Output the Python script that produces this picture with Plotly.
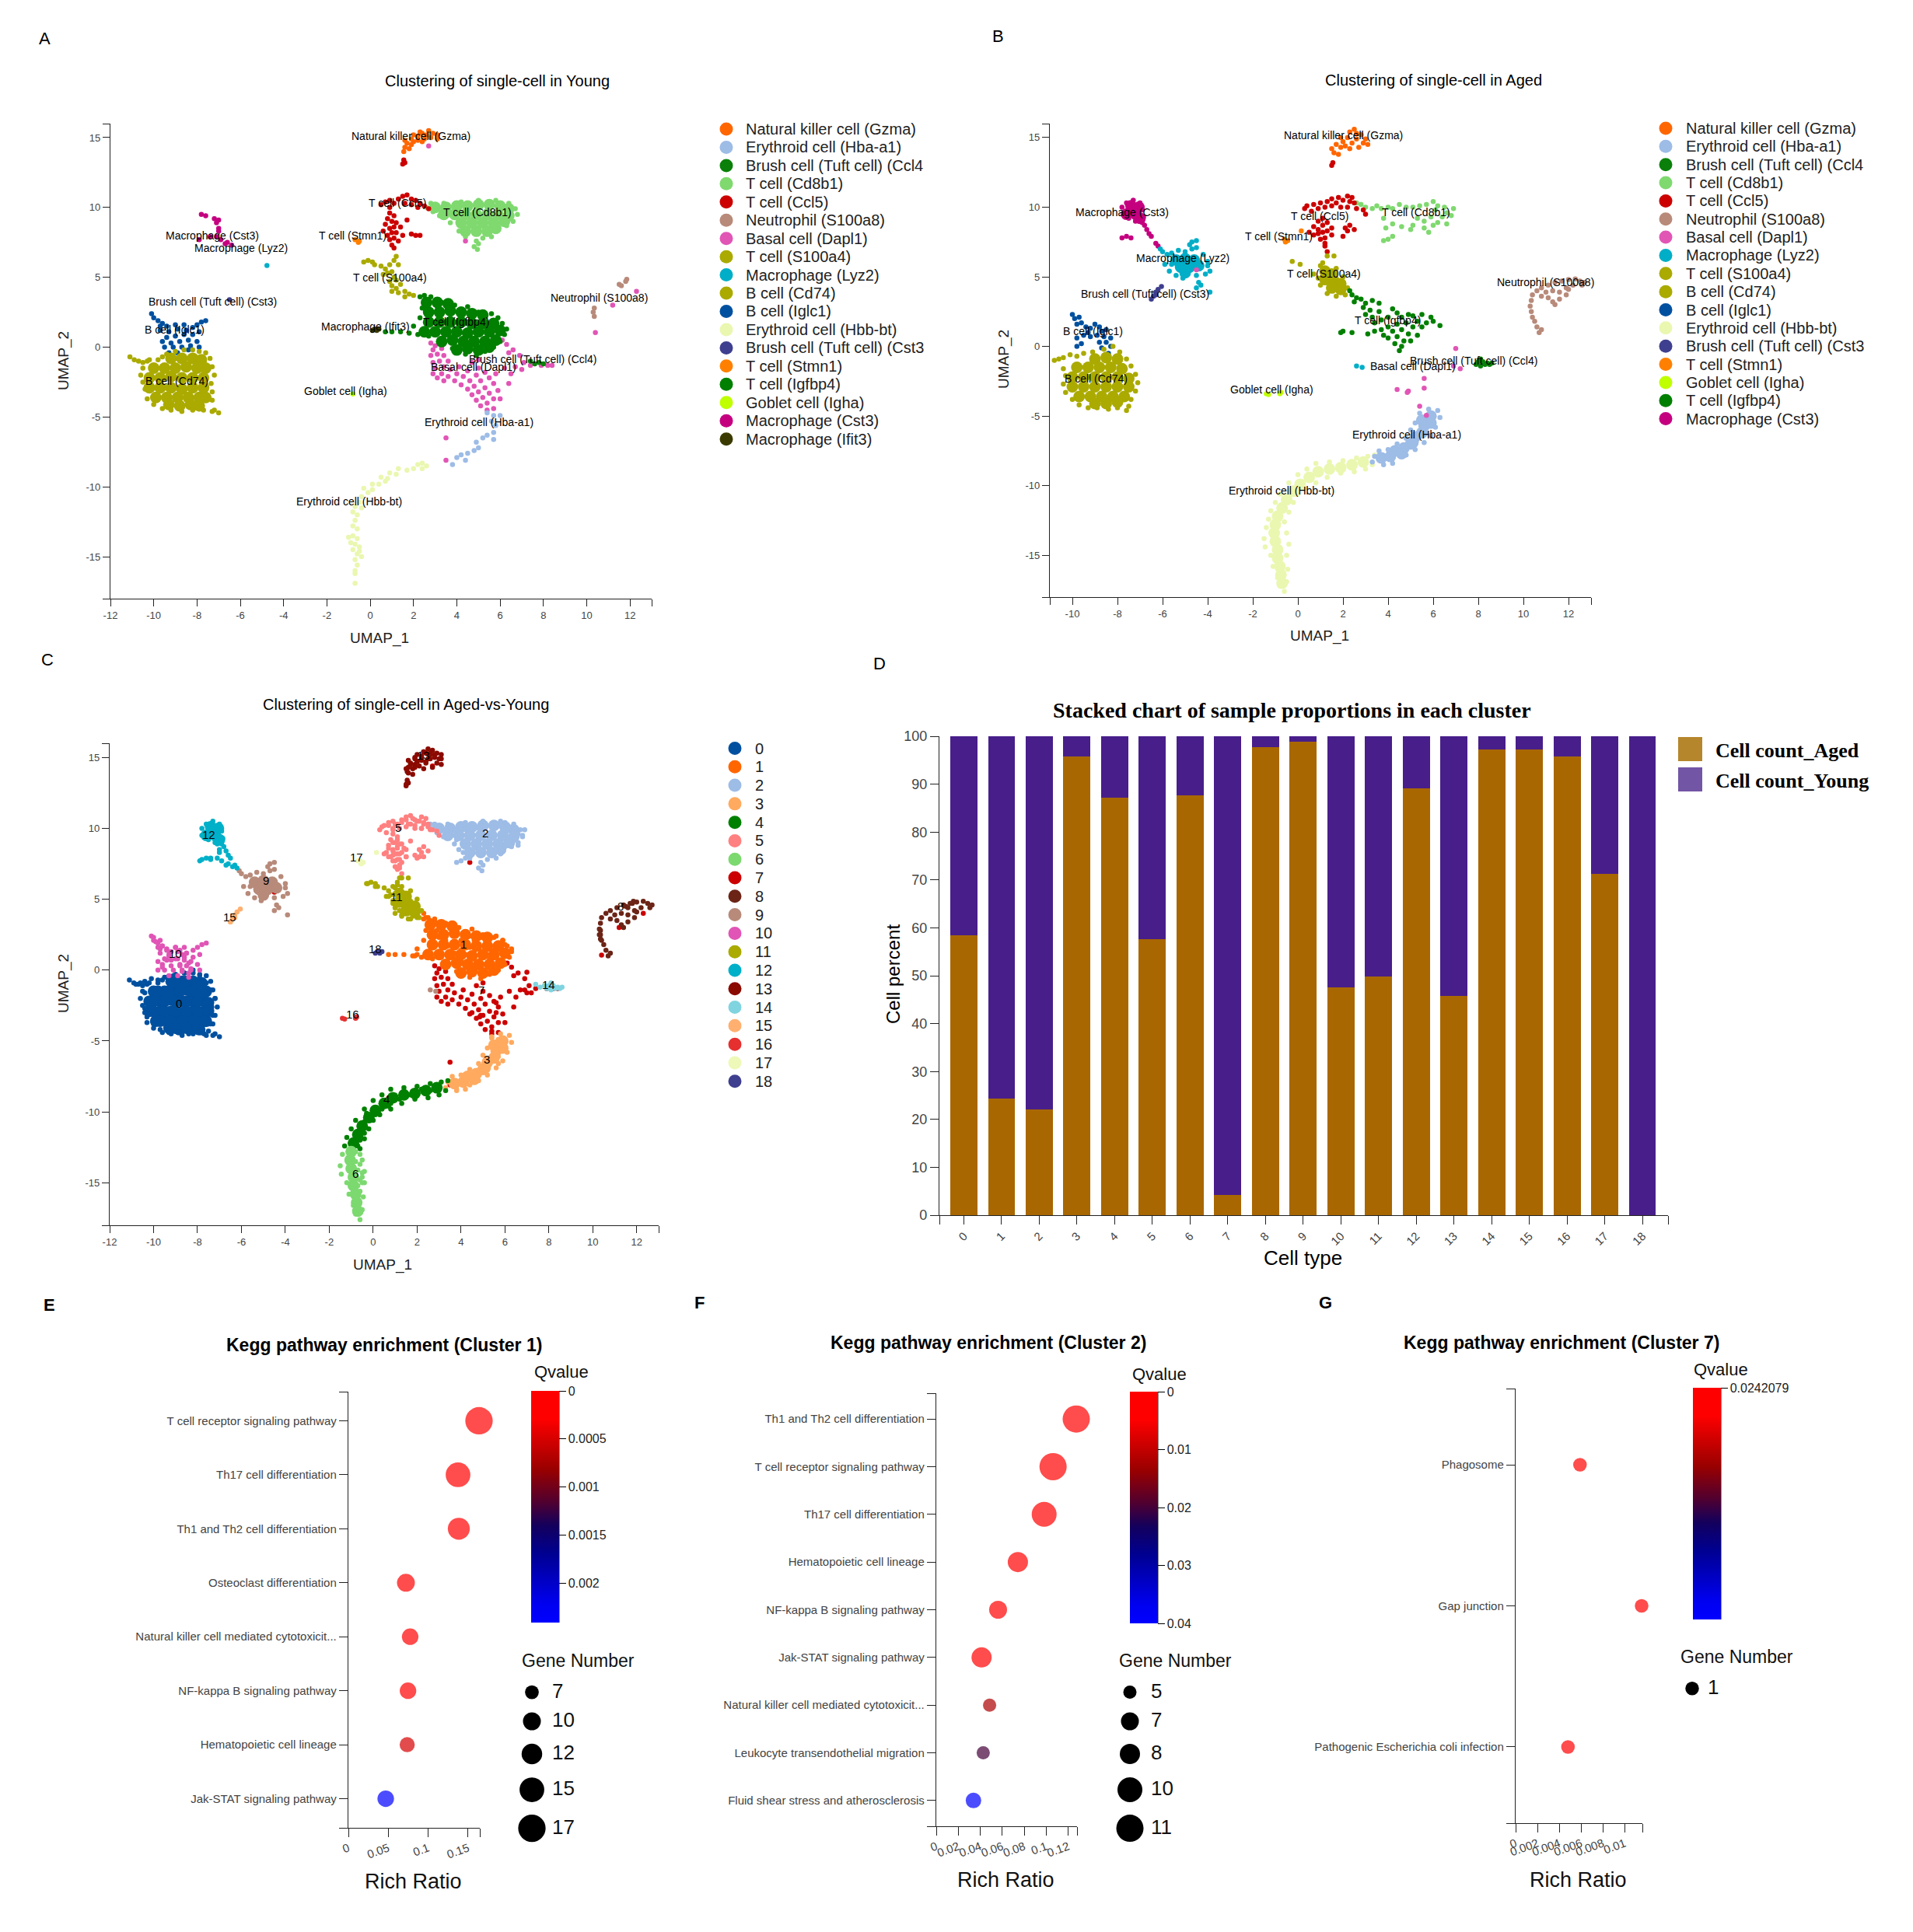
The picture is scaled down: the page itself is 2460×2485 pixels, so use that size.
import plotly.graph_objects as go

W, H = 2460, 2485

A_GZMA = [(1.55,14.0),(1.6,14.3),(1.7,14.6),(1.6,14.8),(1.9,14.5),(1.9,14.9),(2.0,15.2),(2.2,14.8),(2.2,15.1),(2.4,15.3),(2.5,14.9),(2.6,15.2),(2.8,15.0),(2.9,15.3),(3.1,15.2),(3.1,14.9),(2.4,14.7),(1.8,14.2),(2.7,15.5),(2.3,15.4),(2.0,14.7)]
A_CCL5 = [(1.5,13.1),(1.55,13.4),(1.6,13.2),(0.5,10.2),(0.7,10.4),(0.9,10.5),(1.1,10.3),(1.3,10.6),(1.5,10.8),(1.7,10.9),(1.9,10.6),(2.1,10.5),(2.3,10.3),(2.5,10.1),(2.7,9.9),(1.6,10.3),(1.9,10.2),(2.2,10.0),(0.9,10.0),(0.9,9.6),(1.1,9.4),(0.8,9.2),(1.0,9.0),(1.2,8.9),(0.7,8.8),(0.9,8.5),(1.1,8.6),(1.4,8.6),(0.6,8.3),(0.8,8.0),(1.0,8.2),(1.2,8.2),(1.5,8.0),(0.9,7.7),(1.1,7.8),(1.3,7.6),(1.0,7.3),(1.1,7.1),(1.9,8.1),(2.1,8.0),(2.3,8.0),(1.7,9.1)]
A_CD8B1 = [(2.6,10),(2.8,10.3),(3.4,10.3),(4.2,10.4),(5,10.5),(5.8,10.5),(6.4,10.3),(6.7,9.9),(6.8,9.5),(6.6,9.0),(6.3,8.7),(5.6,7.9),(5.2,7.8),(4.9,7.6),(4.8,7.2),(4.95,7.0),(5,7.4),(4.4,7.9),(4.1,8.3),(3.7,8.9),(3.2,9.4),(2.9,9.7)]
A_CD8B1_CORE = [(3.0,10.0),(3.5,10.0),(4,10.1),(4.5,10.1),(5,10.2),(5.5,10.2),(6,10.1),(6.4,9.9),(3.4,9.5),(3.9,9.5),(4.4,9.5),(4.9,9.5),(5.4,9.5),(5.9,9.5),(6.4,9.4),(4.2,8.9),(4.7,8.9),(5.2,8.9),(5.7,8.9),(6.2,9.0),(4.4,8.3),(4.9,8.3),(5.4,8.3),(5.8,8.5)]
A_STMN1 = [(-0.7,7.7),(-0.55,7.5),(-0.5,7.6)]
A_S100A4 = [(-0.3,6.1),(-0.1,6.2),(0.1,6.1),(0.2,5.9),(0.5,5.8),(0.7,5.6),(0.9,5.9),(1.1,6.2),(1.2,6.5),(1.3,5.9),(0.6,5.2),(0.8,5.3),(1,5.4),(1.1,5),(0.9,4.7),(1,4.4),(1.2,4.2),(1.4,4.5),(1,4),(1.3,3.9),(1.6,4.0),(1.8,3.8),(2,3.7),(1.6,3.6),(1.2,4.8)]
A_IGFBP4 = [(2.3,3.6),(2.5,3.7),(2.8,3.6),(3.3,3.2),(3.9,3.0),(4.5,2.9),(5,2.5),(5.6,2.4),(5.9,2.1),(6.1,1.7),(6.3,1.3),(6.2,0.9),(6,0.4),(5.7,0),(5.3,-0.3),(4.9,-0.6),(4.4,-0.5),(3.8,-0.1),(3.2,0.4),(2.7,0.8),(2.2,0.9),(1.8,1),(1.4,1.1),(1,1.1),(0.7,1.1),(2,1.5),(2.3,2.1),(2.4,2.8)]
A_IGFBP4_CORE = [(2.6,3.2),(3.1,3.2),(3.6,3.1),(2.7,2.5),(3.2,2.5),(3.7,2.6),(4.2,2.5),(4.7,2.4),(5.2,2.3),(2.7,1.8),(3.2,1.8),(3.7,1.8),(4.2,1.8),(4.7,1.7),(5.2,1.7),(5.7,1.7),(2.5,1.1),(3,1.1),(3.5,1.1),(4,1.1),(4.5,1.0),(5,1.1),(5.5,1.1),(6,1.2),(3.3,0.4),(3.8,0.5),(4.3,0.4),(4.8,0.4),(5.3,0.4),(5.8,0.5),(4,-0.2),(4.5,-0.1),(5,-0.2),(5.5,0)]
A_BASAL = [(2.8,0.3),(3.0,0.1),(2.9,-0.2),(3.3,-0.1),(3.1,-0.5),(2.8,-0.6),(3.4,-0.6),(3.2,-1.0),(2.9,-1.1),(3.6,-1.0),(3.4,-1.4),(3.0,-1.5),(2.9,-1.9),(3.3,-1.9),(3.7,-1.6),(3.6,-2.1),(3.1,-2.2),(3.4,-2.4),(3.9,-2.4),(4.0,-1.9),(4.1,-1.4),(4.3,-2.1),(4.5,-1.7),(4.2,-2.7),(4.6,-2.4),(4.9,-2.0),(5.0,-1.5),(5.3,-1.8),(4.5,-3.0),(4.8,-2.8),(5.1,-2.4),(5.5,-2.2),(5.8,-1.9),(4.7,-3.4),(5.0,-3.2),(5.3,-2.9),(5.7,-2.6),(4.9,-3.8),(5.2,-3.6),(5.5,-3.3),(5.9,-3.1),(5.1,-4.2),(5.4,-4.0),(5.7,-3.7),(6.0,-3.7),(5.4,-4.5),(5.7,-4.4),(6.4,-2.6),(6.5,-1.9),(6.2,-1.5),(6.7,-1.4),(7.0,-1.6),(7.1,-1.1),(6.9,-0.6),(6.6,-0.2),(6.3,0.2),(6.1,0.5),(6.4,-0.4),(7.4,-1.3),(7.9,-1.3),(8.4,-1.3),(8.2,-1.3),(2.7,14.4),(3.5,-6.5),(3.5,-8.1),(4.4,7.6),(11.2,3.0),(12.3,4.0),(10.4,1.05),(5.0,-0.9),(4.7,-1.1)]
A_HBA = [(5.4,-4.7),(5.7,-4.9),(6,-4.9),(5.6,-5.3),(5.8,-5.6),(5.7,-6.1),(5.7,-6.6),(5.4,-6.3),(5.2,-6.5),(4.9,-6.8),(5,-7.2),(4.8,-7.4),(4.5,-7.6),(4.2,-7.7),(4,-7.9),(3.8,-8.4),(4.4,-8.1)]
A_HBB = [(2.6,-8.5),(2.4,-8.3),(2.2,-8.4),(2.4,-8.7),(2,-8.7),(1.7,-8.8),(1.3,-8.7),(1.2,-9.1),(0.9,-9.0),(0.8,-9.4),(0.5,-9.3),(0.4,-9.8),(0.7,-9.6),(0.1,-9.8),(0.1,-10.2),(-0.1,-10.4),(-0.3,-10.1),(-0.4,-10.7),(-0.5,-11.1),(-0.7,-11.4),(-0.4,-11.5),(-0.8,-11.8),(-0.6,-12),(-0.7,-12.4),(-0.8,-12.8),(-0.6,-13.0),(-1,-13.6),(-0.8,-13.5),(-0.6,-13.7),(-0.7,-14.1),(-0.5,-14.3),(-0.8,-14.5),(-0.6,-14.8),(-0.4,-15),(-0.7,-15.2),(-0.6,-15.6),(-0.7,-16),(-0.7,-16.2),(-0.7,-16.9),(-0.5,-14.6),(-0.9,-14.0)]
A_CD74 = [(-11.1,-0.7),(-10.9,-0.9),(-10.7,-1),(-10.5,-1.1),(-10.3,-1.0),(-10.2,-0.9),(-9.8,-0.9),(-9.6,-0.7),(-9.4,-0.5),(-9,-0.3),(-8.6,-0.2),(-8.2,-0.2),(-7.9,-0.3),(-7.6,-0.4),(-7.4,-0.8),(-7.3,-1.4),(-7.2,-2),(-7.35,-2.6),(-7.3,-3.2),(-7.3,-3.8),(-7.2,-4.5),(-7,-4.7),(-7.3,-4.6),(-7.7,-4.5),(-8.2,-4.5),(-8.7,-4.6),(-9.2,-4.5),(-9.6,-4.4),(-10,-4.1),(-10.3,-3.7),(-10.4,-3),(-10.5,-2.5),(-10.6,-2),(-10.5,-1.5)]
A_CD74_CORE = [(-9.2,-0.8),(-8.7,-0.8),(-8.2,-0.8),(-7.8,-0.9),(-10,-1.5),(-9.5,-1.5),(-9,-1.5),(-8.5,-1.4),(-8,-1.5),(-7.6,-1.5),(-10.2,-2.2),(-9.7,-2.2),(-9.2,-2.1),(-8.7,-2.2),(-8.2,-2.2),(-7.7,-2.2),(-10.2,-2.9),(-9.7,-2.9),(-9.2,-2.9),(-8.7,-3.0),(-8.2,-2.9),(-7.7,-2.9),(-9.9,-3.6),(-9.4,-3.6),(-8.9,-3.6),(-8.4,-3.6),(-7.9,-3.6),(-7.6,-3.6),(-9.3,-4.1),(-8.8,-4.2),(-8.3,-4.1),(-7.9,-4.2)]
A_IGLC1 = [(-10.1,2.4),(-10,2.1),(-9.8,1.9),(-9.6,1.7),(-9.4,1.5),(-9.7,1.2),(-9.3,1.1),(-9,1.6),(-8.9,1.3),(-8.6,1.6),(-8.5,1.2),(-8.2,1.4),(-8,1.6),(-7.8,1.8),(-7.6,1.9),(-7.9,1.1),(-8.2,0.9),(-8.6,0.9),(-9,0.8),(-9.4,0.7),(-9.6,0.4),(-9.2,0.3),(-8.8,0.4),(-8.4,0.5),(-8,0.4),(-7.9,0),(-8.3,0.1),(-8.7,0),(-9.1,0),(-9.5,0),(-9.3,-0.4),(-8.9,-0.4),(-8.4,-0.2),(-9.7,1.5)]
A_CST3 = [(-7.8,9.5),(-7.6,9.4),(-7.2,9.2),(-7.1,8.9),(-7,9.1),(-7,8.5),(-7,8.3),(-7.9,7.7),(-7.4,7.9),(-7.1,7.9),(-6.9,7.7),(-6.6,7.5),(-6.4,7.3),(-6.7,7.4)]
A_IFIT3 = [(0.2,1.3),(0.3,1.2),(0.4,1.3),(0.1,1.2)]
A_NEUT = [(11.5,4.5),(11.6,4.4),(11.8,4.7),(11.85,4.85),(10.35,2.8),(10.3,2.5),(10.35,2.2)]
A_LYZ2 = [(-4.77,5.85)]
A_GOBLET = [(-0.8,-3.35)]
A_CCL4 = [(7.6,-1.2),(7.8,-1.1),(8,-1.2),(7.4,-1.0)]
A_BRUSH_CST3 = [(-6.5,3.4)]

B_GZMA = [(1.5,14.2),(1.7,14.5),(1.6,13.9),(1.8,13.8),(1.9,14.3),(2,14.7),(2.2,15.0),(1.9,15),(2.3,15.4),(2.5,15.6),(2.4,14.6),(2.7,14.3),(2.6,14.9),(2.9,14.6),(3,14.9),(3.1,14.5),(2.8,15.2),(2.3,14.2),(2.1,14.4),(2.6,15.3)]
B_CCL5 = [(1.55,13.2),(1.5,13.0),(0.3,9.9),(0.4,10.1),(0.6,9.7),(0.7,10.2),(0.9,9.9),(1,10.3),(1.2,10),(1.3,10.4),(1.5,10.1),(1.5,10.6),(1.7,10.3),(1.8,10.7),(2,10.5),(2.2,10.8),(2.3,10.4),(2.4,10.7),(2.5,10.3),(2.2,10),(1.9,10.0),(2.6,9.9),(2.9,9.8),(3,9.5),(0.9,9),(1.1,9.2),(0.7,8.6),(0.9,8.4),(1.1,8.7),(1.3,8.9),(1.5,8.5),(0.5,8.2),(0.7,8),(0.9,8.1),(1.1,8.2),(1.3,8.3),(1.5,8.0),(1,7.7),(1.2,7.8),(1.2,7.4),(1.2,7.2),(1.3,6.8),(2,7.9),(2.2,8.3),(2.3,8.7),(2.1,8.5),(2.5,8.4)]
B_CD8B1 = [(2.6,10.3),(2.8,10.2),(3,10),(3.3,9.9),(3.5,10.1),(3.7,9.9),(4,10),(4.2,9.9),(4.5,10.2),(4.8,10),(5.1,10),(5.4,10.1),(5.7,10.2),(6,10.4),(6.2,10.1),(6.1,9.8),(6.5,10),(6.9,9.9),(6.6,9.6),(6.8,9.4),(6.4,9.3),(6.2,8.9),(5.9,9.3),(5.6,9.0),(5.3,9.2),(5.1,8.7),(5.6,8.5),(5.8,8.2),(6,8.7),(5,8.4),(4.6,8.6),(4.2,8.8),(3.9,8.5),(3.8,9.2),(4,7.7),(3.8,7.6),(4.2,7.9),(6.6,8.8)]
B_STMN1 = [(-0.6,7.7),(-0.55,7.5),(-0.45,7.6),(0.15,8.3)]
B_CST3 = [(-7.8,10),(-7.6,10.3),(-7.3,10.5),(-7,10.3),(-6.9,9.8),(-6.85,9.3),(-6.9,8.9),(-7.2,9),(-7.5,9.2),(-6.8,8.7),(-6.7,8.4),(-6.6,8.1),(-6.5,7.9),(-6.3,7.4),(-6.2,7.2),(-7.8,7.8),(-7.6,7.9),(-7.4,7.8)]
B_CST3_CORE = [(-7.6,9.5),(-7.4,10.1),(-7.2,9.5),(-7.05,10),(-7.0,9.2)]
B_LYZ2 = [(-6,6.8),(-5.8,6.6),(-5.6,6.7),(-6.1,7),(-5.3,6.9),(-5,6.8),(-4.7,7),(-4.8,7.3),(-4.7,7.5),(-4.5,7.6),(-4.5,7.1),(-4.2,6.6),(-4,6.1),(-4,5.8),(-3.9,5.4),(-4.1,5.2),(-4.5,5.1),(-4.4,4.6),(-4.5,4.2),(-4.3,4.4),(-3.9,3.9),(-5.7,5.4),(-5.6,5.9),(-5.9,5.9),(-5.4,5.1),(-5.1,4.9),(2.6,-1.4),(2.85,-1.5)]
B_LYZ2_CORE = [(-5.4,6.2),(-5,6.3),(-4.6,6.2),(-5.2,5.7),(-4.8,5.7),(-4.4,5.8),(-5,5.3)]
B_BRUSH_CST3 = [(-6.5,3.4),(-6.4,3.6),(-6.3,3.9),(-6.2,4.1),(-6.05,4.3),(-6.3,3.7)]
B_IGLC1 = [(-10,2.3),(-9.9,2),(-9.7,2.1),(-9.6,1.7),(-9.8,1.6),(-9.4,1.4),(-9.3,1.0),(-9.5,0.8),(-9.2,0.7),(-8.8,1.4),(-8.7,1.1),(-8.5,1.2),(-8.9,0.8),(-8.6,0.7),(-8.3,0.6),(-9.8,0.6),(-9.6,0.2),(-9.8,0),(-8.8,0.3),(-8.5,0.3),(-8.7,-0.1),(-8.3,0),(-8.4,-0.5),(-9.2,1.3),(-9,1.6)]
B_CD74 = [(-10.8,-1),(-10.6,-0.9),(-10.4,-0.8),(-10.1,-0.6),(-9.8,-0.7),(-9.5,-0.5),(-9.1,-0.4),(-8.6,-0.2),(-8.2,0.0),(-7.9,-0.4),(-7.6,-0.9),(-7.4,-1.4),(-7.2,-2),(-7.1,-2.6),(-7.2,-3.2),(-7.4,-3.8),(-7.5,-4.3),(-7.6,-4.6),(-8,-4.4),(-8.4,-4.5),(-8.9,-4.4),(-9.3,-4.4),(-9.7,-4.2),(-10,-3.8),(-10.3,-3.3),(-10.4,-2.7),(-10.3,-2.1),(-10.4,-1.6)]
B_CD74_CORE = [(-9.0,-0.9),(-8.5,-0.8),(-8.0,-0.9),(-9.8,-1.5),(-9.3,-1.5),(-8.8,-1.5),(-8.3,-1.5),(-7.8,-1.6),(-10,-2.2),(-9.5,-2.2),(-9,-2.2),(-8.5,-2.2),(-8,-2.2),(-7.5,-2.3),(-10,-2.9),(-9.5,-2.9),(-9,-2.9),(-8.5,-2.9),(-8,-2.9),(-7.5,-2.9),(-9.7,-3.6),(-9.2,-3.6),(-8.7,-3.6),(-8.2,-3.6),(-7.7,-3.6),(-9,-4.1),(-8.5,-4.1),(-8,-4.0)]
B_S100A4 = [(-0.25,6.1),(0.1,5.9),(1,5.8),(1.3,6.5),(1.6,6.5),(1.1,6),(0.7,5.2),(0.9,4.9),(1,4.4),(1.3,3.8),(1.7,3.6),(2.1,3.7),(2.2,4.2),(2,5),(1.7,5.6)]
B_S100A4_CORE = [(1.2,5.4),(1.5,5.2),(1.2,4.8),(1.6,4.7),(1.9,4.5),(1.5,4.2),(1.9,4.1)]
B_IGFBP4 = [(2.3,4),(2.4,3.7),(2.6,3.5),(2.5,3.2),(2.8,3.4),(3,3.1),(3.3,3.3),(3.6,3.1),(2.9,2.8),(3.2,2.6),(3.6,2.5),(3,2.3),(3.3,2.1),(3.7,1.9),(3.4,1.7),(4,2.1),(4.2,2.7),(4.4,2.4),(4.6,2.1),(4.9,2.3),(5.1,2.2),(5.5,2.3),(5.9,2.1),(6,1.8),(6.3,1.5),(5.7,1.7),(5.3,1.8),(5.5,1.4),(5.1,1.4),(4.8,1.7),(4.4,1.6),(4,1.4),(3.7,1.2),(3.4,1.1),(3.1,0.9),(2,1.1),(1.9,1.0),(2.4,1),(4.2,1.1),(4.6,1.2),(4.9,0.9),(5.3,0.8),(4.4,0.7),(4,0.6),(4.7,0.4),(4.3,0.2),(4.6,0),(4.5,-0.3),(5,0.4),(3.8,0.8)]
B_CCL4 = [(7.9,-1.3),(8,-1.1),(8.1,-1.4),(8.2,-1.1),(8.3,-1.3),(8.4,-1.2),(8.5,-1.3),(8.6,-1.2),(8.1,-0.9)]
B_BASAL = [(7,-0.15),(7.2,-1.6),(5.6,-2.3),(5.6,-3),(4.4,-3.1),(4.9,-3.2),(4.85,-3.3),(5.4,-4.3),(5.7,-4.95),(-4.5,5.5),(6.9,-1.4)]
B_GOBLET = [(-1.4,-3.4),(-1.3,-3.45),(-0.8,-3.4),(-0.75,-3.3)]
B_NEUT = [(10.7,1.0),(10.8,1.2),(10.6,1.4),(10.5,1.8),(10.4,2.1),(10.35,2.5),(10.3,2.9),(10.35,3.3),(10.4,3.7),(10.6,4),(10.8,4.2),(11.1,4.4),(11.4,4.6),(11.7,4.7),(12,4.8),(12.3,4.85),(12.5,4.7),(12.7,4.6),(12.6,4.4),(12.2,4.4),(11.9,4.2),(11.6,3.9),(11.9,3.7),(11.6,3.4),(11.3,3.2),(11.1,3.5),(11.4,3),(10.8,3.6),(11,3.9),(11.3,4),(12,4.1)]
B_HBA = [(3.3,-8.3),(3.4,-7.9),(3.6,-7.5),(4,-7.4),(4.4,-7),(4.8,-6.6),(5,-6),(5.2,-5.5),(5.4,-4.8),(5.8,-4.5),(6.2,-4.6),(6.3,-5.1),(6.1,-5.8),(5.9,-6.4),(5.6,-6.9),(5.2,-7.4),(4.8,-7.8),(4.2,-8.4),(3.8,-8.5)]
B_HBA_CORE = [(3.7,-8),(4.1,-7.9),(4.3,-7.5),(4.7,-7.3),(5,-7),(5.2,-6.5),(5.5,-6.2),(5.6,-5.7),(5.9,-5.5),(5.9,-5),(5.5,-5.3),(4.6,-7.7),(5.1,-6.9)]
B_HBB = [(3.4,-7.8),(3.1,-7.9),(2.6,-8),(2,-8.2),(1.4,-8.3),(0.8,-8.4),(0.4,-8.8),(0,-9.2),(-0.4,-9.8),(-0.8,-10.6),(-1,-11.2),(-1.2,-11.8),(-1.3,-12.4),(-1.4,-13),(-1.5,-13.8),(-1.45,-14.4),(-1.2,-15),(-1.1,-15.8),(-0.9,-16.6),(-0.8,-17.2),(-0.6,-17.6),(-0.5,-16.9),(-0.45,-16),(-0.5,-15),(-0.4,-14.2),(-0.5,-13.4),(-0.6,-12.6),(-0.4,-11.9),(-0.2,-11.2),(0,-10.6),(0.3,-10.2),(0.8,-9.8),(1.3,-9.4),(1.9,-9.1),(2.5,-9),(3,-8.8),(3.3,-8.5)]
B_HBB_CORE = [(2.9,-8.3),(2.4,-8.5),(1.9,-8.7),(1.4,-8.8),(0.9,-9.0),(0.5,-9.4),(0.1,-9.9),(-0.2,-10.4),(-0.5,-11),(-0.7,-11.6),(-0.9,-12.2),(-1,-12.8),(-1.05,-13.4),(-1.0,-14),(-0.9,-14.6),(-0.9,-15.2),(-0.8,-15.8),(-0.75,-16.4),(-0.7,-17)]

COLORS = {
    "Natural killer cell (Gzma)": "#FF6600", "Erythroid cell (Hba-a1)": "#9DBCE6",
    "Brush cell (Tuft cell) (Ccl4": "#0A800A", "T cell (Cd8b1)": "#7FD96F", "T cell (Ccl5)": "#CC0000",
    "Neutrophil (S100a8)": "#B88A7A", "Basal cell (Dapl1)": "#E155B5", "T cell (S100a4)": "#AAAA00",
    "Macrophage (Lyz2)": "#00AEC7", "B cell (Cd74)": "#AAAA00", "B cell (Iglc1)": "#00509F",
    "Erythroid cell (Hbb-bt)": "#EAF7B0", "Brush cell (Tuft cell) (Cst3": "#3F3F8F", "T cell (Stmn1)": "#FF8000",
    "T cell (Igfbp4)": "#007F00", "Goblet cell (Igha)": "#BFFF00", "Macrophage (Cst3)": "#C4007F",
    "Macrophage (Ifit3)": "#3A3A00",
}
A_LEGEND = ["Natural killer cell (Gzma)", "Erythroid cell (Hba-a1)", "Brush cell (Tuft cell) (Ccl4", "T cell (Cd8b1)",
            "T cell (Ccl5)", "Neutrophil (S100a8)", "Basal cell (Dapl1)", "T cell (S100a4)", "Macrophage (Lyz2)",
            "B cell (Cd74)", "B cell (Iglc1)", "Erythroid cell (Hbb-bt)", "Brush cell (Tuft cell) (Cst3",
            "T cell (Stmn1)", "T cell (Igfbp4)", "Goblet cell (Igha)", "Macrophage (Cst3)", "Macrophage (Ifit3)"]
B_LEGEND = ["Natural killer cell (Gzma)", "Erythroid cell (Hba-a1)", "Brush cell (Tuft cell) (Ccl4", "T cell (Cd8b1)",
            "T cell (Ccl5)", "Neutrophil (S100a8)", "Basal cell (Dapl1)", "Macrophage (Lyz2)", "T cell (S100a4)",
            "B cell (Cd74)", "B cell (Iglc1)", "Erythroid cell (Hbb-bt)", "Brush cell (Tuft cell) (Cst3",
            "T cell (Stmn1)", "Goblet cell (Igha)", "T cell (Igfbp4)", "Macrophage (Cst3)"]
C_COLORS = ["#00509F", "#FF6600", "#9DBCE6", "#FFAA5F", "#008000", "#FF8080", "#7CD96F", "#CC0000", "#6B2416", "#B88A7A",
            "#E055B5", "#AAAA00", "#00B0C8", "#8B0A00", "#80D4E0", "#FFB070", "#E63030", "#EEF8B8", "#3F3F8F"]

# (text, UMAP_1, UMAP_2) of the labels written inside the plots
A_LABELS = [("Natural killer cell (Gzma)",1.9,15.1),("T cell (Ccl5)",1.27,10.3),("T cell (Cd8b1)",4.95,9.65),("Macrophage (Cst3)",-7.3,8.0),
            ("Macrophage (Lyz2)",-5.98,7.1),("T cell (Stmn1)",-0.82,8.0),("T cell (S100a4)",0.93,5.0),("Brush cell (Tuft cell) (Cst3)",-7.28,3.27),
            ("Neutrophil (S100a8)",10.58,3.53),("B cell (Iglc1)",-9.05,1.24),("Macrophage (Ifit3)",-0.23,1.5),("T cell (Igfbp4)",3.95,1.79),
            ("Brush cell (Tuft cell) (Ccl4)",7.5,-0.88),("Basal cell (Dapl1)",4.76,-1.44),("B cell (Cd74)",-8.94,-2.41),("Goblet cell (Igha)",-1.15,-3.12),
            ("Erythroid cell (Hba-a1)",5.02,-5.35),("Erythroid cell (Hbb-bt)",-0.96,-11.03)]
B_LABELS = [("Natural killer cell (Gzma)",2.03,15.18),("T cell (Ccl5)",0.97,9.37),("T cell (Cd8b1)",5.24,9.64),("Macrophage (Cst3)",-7.78,9.64),
            ("T cell (Stmn1)",-0.84,7.9),("Macrophage (Lyz2)",-5.11,6.34),("T cell (S100a4)",1.16,5.22),("Brush cell (Tuft cell) (Cst3)",-6.76,3.77),
            ("Neutrophil (S100a8)",10.97,4.6),("B cell (Iglc1)",-9.08,1.09),("T cell (Igfbp4)",3.97,1.89),("Brush cell (Tuft cell) (Ccl4)",7.81,-1.0),
            ("Basal cell (Dapl1)",5.11,-1.41),("B cell (Cd74)",-8.95,-2.3),("Goblet cell (Igha)",-1.14,-3.09),("Erythroid cell (Hba-a1)",4.84,-6.31),
            ("Erythroid cell (Hbb-bt)",-0.73,-10.37)]
C_LABELS = [(-8.85,-2.37),(4.12,1.83),(5.12,9.65),(5.19,-6.29),(0.62,-9.1),(1.14,10.07),(-0.82,-14.37),(4.94,-1.39),(11.28,4.53),(-4.9,6.33),
            (-9,1.16),(1.07,5.17),(-7.5,9.58),(2.29,15.14),(8,-1.04),(-6.53,3.75),(-0.94,-3.13),(-0.77,7.94),(0.1,1.5)]

# panel D
D_CLUSTERS = list(range(19))
D_AGED = [58.5, 24.3, 22.0, 95.8, 87.2, 57.7, 87.7, 4.2, 97.8, 98.8, 47.5, 49.8, 89.2, 45.7, 97.3, 97.3, 95.8, 71.3, 0]
D_YOUNG = [41.5, 75.7, 78.0, 4.2, 12.8, 42.3, 12.3, 95.8, 2.2, 1.2, 52.5, 50.2, 10.8, 54.3, 2.7, 2.7, 4.2, 28.7, 100]

# panels E, F, G
E_PATHWAYS = ["T cell receptor signaling pathway", "Th17 cell differentiation", "Th1 and Th2 cell differentiation", "Osteoclast differentiation",
              "Natural killer cell mediated cytotoxicit...", "NF-kappa B signaling pathway", "Hematopoietic cell lineage", "Jak-STAT signaling pathway"]
E_RATIO = [0.1637, 0.1374, 0.1384, 0.0721, 0.0774, 0.0747, 0.0737, 0.0468]
E_GENES = [17, 15, 13, 10, 9, 9, 8, 9]
E_QVALUE = [0.00002, 0.00002, 0.00002, 0.00002, 0.00002, 0.00002, 0.0005, 0.0024]
F_PATHWAYS = ["Th1 and Th2 cell differentiation", "T cell receptor signaling pathway", "Th17 cell differentiation", "Hematopoietic cell lineage",
              "NF-kappa B signaling pathway", "Jak-STAT signaling pathway", "Natural killer cell mediated cytotoxicit...",
              "Leukocyte transendothelial migration", "Fluid shear stress and atherosclerosis"]
F_RATIO = [0.1273, 0.1062, 0.0981, 0.0742, 0.0562, 0.0412, 0.0485, 0.0427, 0.0338]
F_GENES = [11, 11, 10, 8, 7, 8, 5, 5, 6]
F_QVALUE = [0.0002, 0.0002, 0.0002, 0.0002, 0.0003, 0.0003, 0.012, 0.02, 0.04]
G_PATHWAYS = ["Phagosome", "Gap junction", "Pathogenic Escherichia coli infection"]
G_RATIO = [0.0059, 0.01155, 0.0048]
G_GENES = [1, 1, 1]
G_QVALUE = [0.0242079, 0.0242079, 0.0242079]

DOT, CORE = 6.5, 15
FONT = "Liberation Sans"
GRAY = "#444444"
# top-down look of the colour bars; values are plotted negated so 0 sits on top
QSCALE = [[0, "#0000ff"], [0.08, "#0000f0"], [0.3, "#000090"], [0.42, "#14005c"], [0.52, "#500030"], [0.66, "#990000"], [0.88, "#ff0000"], [1, "#ff0000"]]

fig = go.Figure()
annos, shapes = [], []


def px(x):
    return x / W


def py(y):
    return 1 - y / H


def note(text, x, y, size, color="black", bold=False, family=FONT, angle=0, anchor="center"):
    if bold:
        text = "<b>" + text + "</b>"
    annos.append(dict(text=text, x=px(x), y=py(y), xref="paper", yref="paper", showarrow=False, xanchor=anchor, yanchor="middle",
                      textangle=angle, font=dict(size=size, color=color, family=family)))


def dot(x, y, d, color):
    shapes.append(dict(type="circle", xref="paper", yref="paper", x0=px(x - d / 2), x1=px(x + d / 2), y0=py(y + d / 2), y1=py(y - d / 2),
                       fillcolor=color, line_width=0))


def set_axes(n, left, right, top, bottom, xr, yr, xvals, xtext, yvals, ytext, font_size, ticklen=9, xangle=0):
    xname, yname = ("xaxis", "yaxis") if n == 1 else (f"xaxis{n}", f"yaxis{n}")
    anchor = "" if n == 1 else str(n)
    common = dict(showgrid=False, zeroline=False, showline=True, linecolor="#222222", linewidth=1.4, ticks="outside", ticklen=ticklen,
                  tickcolor="#222222", tickmode="array", tickfont=dict(size=font_size, color=GRAY, family=FONT), automargin=False)
    fig.update_layout({
        xname: dict(domain=[px(left), px(right)], range=xr, tickvals=xvals, ticktext=xtext, tickangle=xangle, anchor="y" + anchor, **common),
        yname: dict(domain=[py(bottom), py(top)], range=yr, tickvals=yvals, ticktext=ytext, anchor="x" + anchor, **common),
    })


def add_cells(n, points, color, size):
    if points:
        fig.add_trace(go.Scatter(x=[p[0] for p in points], y=[p[1] for p in points], mode="markers", showlegend=False,
                                 marker=dict(size=size, color=color, line_width=0), xaxis=f"x{n}", yaxis=f"y{n}"))


def umap_panel(n, left, right, top, bottom, xstart, clusters, labels, label_size):
    xvals = [xstart] + [v for v in range(-12, 13, 2) if v > xstart] + [13]
    xtext = [str(v) if v % 2 == 0 else "" for v in xvals[:-1]] + [""]
    yvals = [-18, -15, -10, -5, 0, 5, 10, 15, 16]
    ytext = ["", "-15", "-10", "-5", "0", "5", "10", "15", ""]
    set_axes(n, left, right, top, bottom, [xstart, 13], [-18, 16], xvals, xtext, yvals, ytext, 13)
    for color, points, core in clusters:
        add_cells(n, core, color, CORE)
        add_cells(n, points, color, DOT)
    for text, x, y in labels:
        annos.append(dict(text=text, x=x, y=y, xref=f"x{n}", yref=f"y{n}", showarrow=False, font=dict(size=label_size, color="black", family=FONT)))


def side_legend(names, colors, dot_x, text_x, first_y, step, size=20):
    for i, name in enumerate(names):
        y = first_y + i * step
        dot(dot_x, y, 17, colors[i])
        note(name, text_x, y, size, color="#222222", anchor="left")


A_CLUSTERS = [(COLORS["B cell (Iglc1)"], A_IGLC1, []), (COLORS["B cell (Cd74)"], A_CD74, A_CD74_CORE),
              (COLORS["Natural killer cell (Gzma)"], A_GZMA, []), (COLORS["T cell (Cd8b1)"], A_CD8B1, A_CD8B1_CORE),
              (COLORS["T cell (Ccl5)"], A_CCL5, []), (COLORS["T cell (Stmn1)"], A_STMN1, []), (COLORS["T cell (S100a4)"], A_S100A4, []),
              (COLORS["Basal cell (Dapl1)"], A_BASAL, []), (COLORS["T cell (Igfbp4)"], A_IGFBP4, A_IGFBP4_CORE),
              (COLORS["Brush cell (Tuft cell) (Ccl4"], A_CCL4, []), (COLORS["Erythroid cell (Hba-a1)"], A_HBA, []),
              (COLORS["Erythroid cell (Hbb-bt)"], A_HBB, []), (COLORS["Macrophage (Cst3)"], A_CST3, []),
              (COLORS["Macrophage (Ifit3)"], A_IFIT3, []), (COLORS["Neutrophil (S100a8)"], A_NEUT, []), (COLORS["Macrophage (Lyz2)"], A_LYZ2, []),
              (COLORS["Goblet cell (Igha)"], A_GOBLET, []), (COLORS["Brush cell (Tuft cell) (Cst3"], A_BRUSH_CST3, [])]
B_CLUSTERS = [(COLORS["B cell (Iglc1)"], B_IGLC1, []), (COLORS["B cell (Cd74)"], B_CD74, B_CD74_CORE),
              (COLORS["Natural killer cell (Gzma)"], B_GZMA, []), (COLORS["T cell (Cd8b1)"], B_CD8B1, []),
              (COLORS["T cell (Ccl5)"], B_CCL5, []), (COLORS["T cell (Stmn1)"], B_STMN1, []), (COLORS["T cell (S100a4)"], B_S100A4, B_S100A4_CORE),
              (COLORS["T cell (Igfbp4)"], B_IGFBP4, []), (COLORS["Brush cell (Tuft cell) (Ccl4"], B_CCL4, []),
              (COLORS["Erythroid cell (Hbb-bt)"], B_HBB, B_HBB_CORE), (COLORS["Erythroid cell (Hba-a1)"], B_HBA, B_HBA_CORE),
              (COLORS["Macrophage (Cst3)"], B_CST3, B_CST3_CORE), (COLORS["Macrophage (Lyz2)"], B_LYZ2, B_LYZ2_CORE),
              (COLORS["Neutrophil (S100a8)"], B_NEUT, []), (COLORS["Goblet cell (Igha)"], B_GOBLET, []),
              (COLORS["Brush cell (Tuft cell) (Cst3"], B_BRUSH_CST3, []), (COLORS["Basal cell (Dapl1)"], B_BASAL, [])]

umap_panel(1, 134, 830, 151, 762, -12, A_CLUSTERS, A_LABELS, 14)
umap_panel(2, 1342, 2038, 151, 760, -11, B_CLUSTERS, B_LABELS, 14)

# panel C is the same cells, pooled and coloured by cluster id
ALL_HBB = A_HBB + B_HBB
ALL_HBB_CORE = B_HBB_CORE
C_CELLS = {
    0: (A_CD74 + B_CD74, A_CD74_CORE + B_CD74_CORE), 1: (A_IGFBP4 + B_IGFBP4, A_IGFBP4_CORE), 2: (A_CD8B1 + B_CD8B1, A_CD8B1_CORE),
    3: (A_HBA + B_HBA, B_HBA_CORE), 4: ([p for p in ALL_HBB if p[1] > -12.8], [p for p in ALL_HBB_CORE if p[1] > -12.8]),
    5: (A_CCL5[3:] + B_CCL5[2:], []), 6: ([p for p in ALL_HBB if p[1] <= -12.8], [p for p in ALL_HBB_CORE if p[1] <= -12.8]),
    7: (A_BASAL + B_BASAL, []), 8: (A_NEUT + B_NEUT, []), 9: (B_LYZ2 + A_LYZ2, B_LYZ2_CORE), 10: (A_IGLC1 + B_IGLC1, []),
    11: (A_S100A4 + B_S100A4, B_S100A4_CORE), 12: (A_CST3 + B_CST3, B_CST3_CORE), 13: (A_GZMA + B_GZMA + A_CCL5[:3] + B_CCL5[:2], []),
    14: (A_CCL4 + B_CCL4, []), 15: (A_BRUSH_CST3 + B_BRUSH_CST3, []), 16: (A_GOBLET + B_GOBLET, []), 17: (A_STMN1 + B_STMN1, []),
    18: (A_IFIT3, []),
}
C_ORDER = [0, 10, 7, 1, 2, 3, 4, 5, 6, 8, 9, 11, 12, 13, 14, 15, 16, 17, 18]
C_CLUSTERS = [(C_COLORS[i], C_CELLS[i][0], C_CELLS[i][1]) for i in C_ORDER]
C_TEXT = [(str(i), p[0], p[1]) for i, p in enumerate(C_LABELS)]
umap_panel(3, 133, 839, 948, 1568, -12, C_CLUSTERS, C_TEXT, 15)

side_legend(A_LEGEND, [COLORS[k] for k in A_LEGEND], 926, 949, 158, 23.45)
side_legend(B_LEGEND, [COLORS[k] for k in B_LEGEND], 2134, 2158, 157, 23.35)
side_legend([str(i) for i in range(19)], C_COLORS, 937, 961, 954.5, 23.79)

note("Clustering of single-cell in Young", 631, 96, 20)
note("Clustering of single-cell in Aged", 1835, 95, 20)
note("Clustering of single-cell in Aged-vs-Young", 514, 898, 20)
for x, y, angle, text in [(480, 813, 0, "UMAP_1"), (74, 456, -90, "UMAP_2"), (1689, 810, 0, "UMAP_1"), (1283, 454, -90, "UMAP_2"),
                          (484, 1619, 0, "UMAP_1"), (74, 1257, -90, "UMAP_2")]:
    note(text, x, y, 19, color="#222222", angle=angle)

# panel D
fig.add_trace(go.Bar(x=D_CLUSTERS, y=D_AGED, name="Cell count_Aged", marker=dict(color="#A86700", line_width=0), width=0.72, showlegend=False, xaxis="x4", yaxis="y4"))
fig.add_trace(go.Bar(x=D_CLUSTERS, y=D_YOUNG, name="Cell count_Young", marker=dict(color="#481E8A", line_width=0), width=0.72, showlegend=False, xaxis="x4", yaxis="y4"))
fig.update_layout(barmode="stack")
d_yvals = list(range(0, 101, 10))
set_axes(4, 1200, 2137, 939, 1555, [-0.65, 18.68], [0, 100], [-0.65] + D_CLUSTERS + [18.68], [""] + [str(c) for c in D_CLUSTERS] + [""],
         d_yvals, [str(v) for v in d_yvals], 18, ticklen=11, xangle=-45)
fig.update_layout(xaxis4_tickfont_size=15)
note("Stacked chart of sample proportions in each cluster", 1653, 905, 28, bold=True, family="Liberation Serif")
note("Cell percent", 1141, 1245, 24, angle=-90)
note("Cell type", 1667, 1610, 26)
for cluster in [1.14, 2.11, 7.09]:
    annos.append(dict(text="<b>*</b>", x=cluster, y=-12.5, xref="x4", yref="y4", showarrow=False, font=dict(size=44, color="#FF0000", family=FONT)))
for y0, color, name in [(940, "#B5862B", "Cell count_Aged"), (979, "#7355A5", "Cell count_Young")]:
    shapes.append(dict(type="rect", xref="paper", yref="paper", x0=px(2150), x1=px(2181), y0=py(y0 + 31), y1=py(y0), fillcolor=color, line_width=0))
    note(name, 2196, y0 + 17, 26, bold=True, family="Liberation Serif", anchor="left")


def gene_size_e(g):
    return 5.5 + 1.75 * g


def gene_size_f(g):
    return 2 + 3 * g


def bubble_panel(n, left, right, top, bottom, xend, xvals, xtext, names, ratio, genes, qvalue, size_fn, bar_x, bar_top, qmax, bar_ticks, bar_text):
    rows = list(range(len(names)))
    ypad = 0.54
    set_axes(n, left, right, top, bottom, [0, xend], [rows[-1] + ypad, -ypad], xvals + [xend], xtext + [""],
             [-ypad] + rows + [rows[-1] + ypad], [""] + names + [""], 15, ticklen=11, xangle=-20)
    fig.add_trace(go.Scatter(x=ratio, y=rows, mode="markers", showlegend=False, cliponaxis=False, xaxis=f"x{n}", yaxis=f"y{n}",
                             marker=dict(size=[size_fn(g) for g in genes], color=[-q for q in qvalue], colorscale=QSCALE, cmin=qmax[0], cmax=qmax[1], line_width=0,
                                         colorbar=dict(x=px(bar_x), xanchor="left", xpad=0, ypad=0, y=py(bar_top), yanchor="top", thicknessmode="pixels", thickness=36,
                                                       lenmode="pixels", len=298, outlinewidth=0, ticks="outside", ticklen=9, tickcolor="black", tickmode="array",
                                                       tickvals=bar_ticks, ticktext=bar_text, tickfont=dict(size=16, color="#222222", family=FONT)))))
    shapes.append(dict(type="line", xref="paper", yref="paper", x0=px(bar_x + 36), x1=px(bar_x + 36), y0=py(bar_top), y1=py(bar_top + 298), line=dict(color="#222222", width=1)))


def gene_legend(genes, size_fn, dot_x, text_x, ys, title_x, title_y):
    note("Gene Number", title_x, title_y, 23, color="#111111")
    for g, y in zip(genes, ys):
        dot(dot_x, y, size_fn(g), "black")
        note(str(g), text_x, y - 2, 26, color="#111111", anchor="left")


LEGEND_YS = [2168.6, 2206, 2248, 2294, 2343.6]
bubble_panel(5, 440, 609, 1782, 2343, 0.1647, [0, 0.05, 0.1, 0.15], ["0", "0.05", "0.1", "0.15"], E_PATHWAYS, E_RATIO, E_GENES, E_QVALUE, gene_size_e,
             675, 1781, (-0.00241, 0), [0, -0.0005, -0.001, -0.0015, -0.002], ["0", "0.0005", "0.001", "0.0015", "0.002"])
gene_legend([7, 10, 12, 15, 17], gene_size_e, 676, 700, LEGEND_YS, 735, 2128)
note("Kegg pathway enrichment (Cluster 1)", 486, 1722, 23, bold=True)
note("Qvalue", 714, 1756, 22, color="#111111")
note("Rich Ratio", 523, 2412, 27, color="#111111")

bubble_panel(6, 1196, 1377, 1784, 2341, 0.128, [0, 0.02, 0.04, 0.06, 0.08, 0.1, 0.12], ["0", "0.02", "0.04", "0.06", "0.08", "0.1", "0.12"], F_PATHWAYS, F_RATIO, F_GENES, F_QVALUE,
             gene_size_f, 1445, 1782, (-0.04, 0), [0, -0.01, -0.02, -0.03, -0.04], ["0", "0.01", "0.02", "0.03", "0.04"])
gene_legend([5, 7, 8, 10, 11], gene_size_f, 1445, 1470, LEGEND_YS, 1504, 2128)
note("Kegg pathway enrichment (Cluster 2)", 1263, 1719, 23, bold=True)
note("Qvalue", 1483, 1759, 22, color="#111111")
note("Rich Ratio", 1285, 2410, 27, color="#111111")

bubble_panel(7, 1941, 2104, 1778, 2337, 0.01162, [0, 0.002, 0.004, 0.006, 0.008, 0.01], ["0", "0.002", "0.004", "0.006", "0.008", "0.01"], G_PATHWAYS, G_RATIO, G_GENES, G_QVALUE,
             lambda g: 17.5, 2169, 1777, (-0.0484, -0.0242079), [-0.0242079], ["0.0242079"])
gene_legend([1], lambda g: 17.5, 2168, 2186, [2163.7], 2225, 2123)
note("Kegg pathway enrichment (Cluster 7)", 2000, 1719, 23, bold=True)
note("Qvalue", 2205, 1753, 22, color="#111111")
note("Rich Ratio", 2022, 2410, 27, color="#111111")

for letter, x, y in [("A", 49, 41), ("B", 1275, 38), ("C", 53, 840), ("D", 1123, 845), ("E", 55, 1670), ("F", 891, 1667), ("G", 1696, 1667)]:
    note(letter, x, y, 22, bold=letter in "EFG")

fig.update_layout(width=W, height=H, margin=dict(l=0, r=0, t=0, b=0), paper_bgcolor="white", plot_bgcolor="white",
                  annotations=annos, shapes=shapes, showlegend=False, font=dict(family=FONT))

fig.write_html("out.html")
